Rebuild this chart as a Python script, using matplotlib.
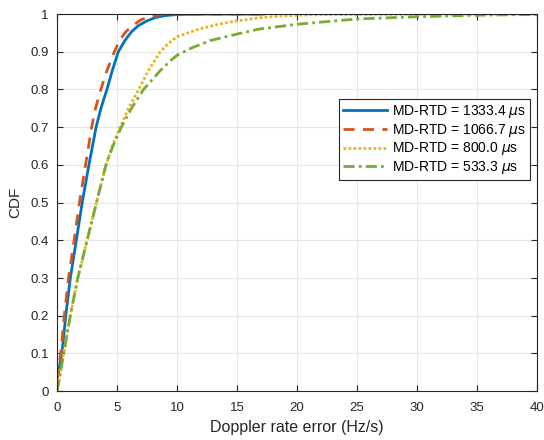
import numpy as np
import matplotlib
matplotlib.use("Agg")
import matplotlib.pyplot as plt

plt.rcParams['font.family'] = ['Liberation Sans', 'DejaVu Sans']
plt.rcParams['mathtext.fontset'] = 'dejavusans'

# values (Doppler rate error in Hz/s, CDF)
x_1333 = [0, 0.4, 0.72, 1.1, 1.6, 2.09, 2.65, 3.25, 3.65, 4.15, 4.6, 5.1, 5.65, 6.2, 6.8, 7.5, 8.2, 9.0, 10, 12, 17.2]
y_1333 = [0.03, 0.1, 0.2, 0.3, 0.4, 0.5, 0.6, 0.7, 0.75, 0.8, 0.85, 0.9, 0.93, 0.953, 0.97, 0.982, 0.991, 0.996, 0.999, 1.0, 1.0]

x_1067 = [0, 0.3, 0.6, 0.95, 1.42, 1.86, 2.37, 2.88, 3.2, 3.64, 4.15, 4.77, 5.2, 5.7, 6.3, 7.0, 7.8, 8.6, 10, 17]
y_1067 = [0.03, 0.1, 0.2, 0.3, 0.4, 0.5, 0.6, 0.7, 0.75, 0.8, 0.85, 0.9, 0.93, 0.952, 0.97, 0.985, 0.994, 0.998, 1.0, 1.0]

x_800 = [0, 0.55, 1.1, 1.72, 2.5, 3.28, 4.07, 4.6, 5.25, 5.95, 6.8, 7.6, 8.6, 9.2, 10, 11.8, 13.3, 15, 16.8, 18.5, 21, 25, 40]
y_800 = [0.0, 0.1, 0.2, 0.3, 0.4, 0.5, 0.6, 0.65, 0.7, 0.75, 0.8, 0.85, 0.9, 0.92, 0.94, 0.96, 0.972, 0.982, 0.99, 0.995, 0.998, 0.999, 1.0]

x_533 = [0, 0.55, 1.1, 1.72, 2.5, 3.28, 4.07, 4.65, 5.35, 6.2, 7.2, 8.6, 9.4, 10, 11.2, 12.8, 15, 16.8, 20, 25, 30, 35, 40]
y_533 = [0.0, 0.1, 0.2, 0.3, 0.4, 0.5, 0.6, 0.65, 0.7, 0.75, 0.8, 0.85, 0.875, 0.891, 0.91, 0.93, 0.947, 0.96, 0.973, 0.987, 0.993, 0.997, 0.999]

labels = [r'MD-RTD = 1333.4 $\mu$s', r'MD-RTD = 1066.7 $\mu$s',
          r'MD-RTD = 800.0 $\mu$s', r'MD-RTD = 533.3 $\mu$s']

fig = plt.figure(figsize=(5.44, 4.40), dpi=100)
ax = fig.add_axes([0.105, 0.111, 0.882, 0.857])

ax.plot(x_1333, y_1333, color='#0072BD', lw=2, ls='-', label=labels[0])
ax.plot(x_1067, y_1067, color='#D95319', lw=2, ls=(0, (4, 3)), label=labels[1])
ax.plot(x_800, y_800, color='#EDB120', lw=2, ls=(0, (1, 0.8)), label=labels[2])
ax.plot(x_533, y_533, color='#77AC30', lw=2, ls=(0, (4, 1.5, 1, 1.5)), label=labels[3])

ax.set_xlim(0, 40)
ax.set_ylim(0, 1)
ax.set_xticks(np.arange(0, 41, 5))
ax.set_yticks(np.arange(0, 1.01, 0.1))
ax.set_yticklabels(['0', '0.1', '0.2', '0.3', '0.4', '0.5', '0.6', '0.7', '0.8', '0.9', '1'])
ax.grid(True, color='#e6e6e6', lw=0.8)
ax.set_axisbelow(True)
ax.tick_params(direction='in', length=4, labelsize=9.5, colors='#262626', top=True, right=True)
ax.tick_params(axis='x', pad=8)
ax.tick_params(axis='y', pad=6)
for s in ax.spines.values():
    s.set_color('#262626')
    s.set_linewidth(0.8)

ax.set_xlabel('Doppler rate error (Hz/s)', fontsize=11.5, color='#262626', labelpad=4)
ax.set_ylabel('CDF', fontsize=11, color='#262626', labelpad=6)

leg = ax.legend(loc='upper right', bbox_to_anchor=(0.985, 0.775), fontsize=10,
                fancybox=False, framealpha=1, edgecolor='#262626',
                handlelength=3.2, handletextpad=0.3, borderpad=0.3, labelspacing=0.12,
                borderaxespad=0)
leg.get_frame().set_linewidth(0.8)

fig.savefig('out.png', dpi=100)
